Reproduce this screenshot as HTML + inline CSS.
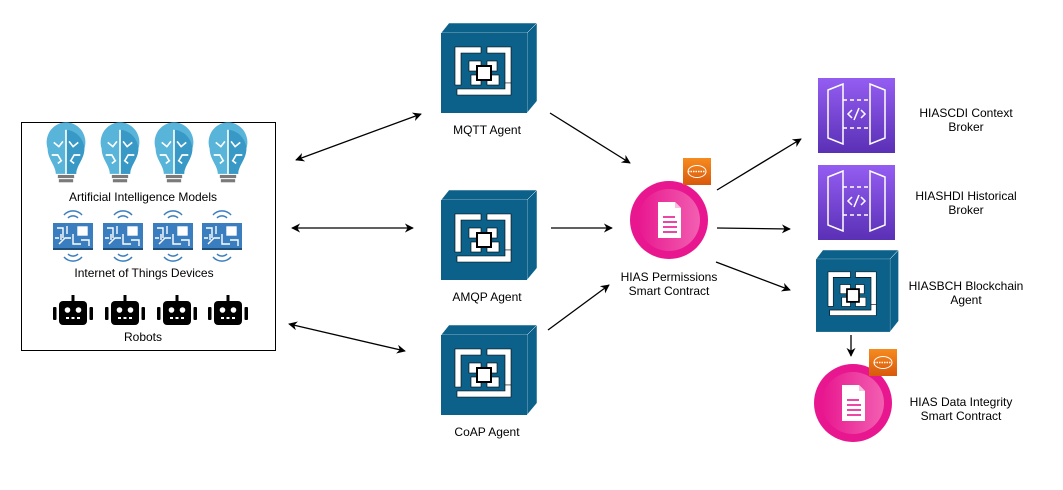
<!DOCTYPE html>
<html><head><meta charset="utf-8"><style>
html,body{margin:0;padding:0;background:#fff}
svg text{font-family:"Liberation Sans",sans-serif;font-size:12px;fill:#000}
</style></head><body>
<svg width="1063" height="485" viewBox="0 0 1063 485" xmlns="http://www.w3.org/2000/svg">
<defs>
<marker id="ah" viewBox="0 0 10 10" refX="9" refY="5" markerWidth="9" markerHeight="9" orient="auto-start-reverse" markerUnits="userSpaceOnUse">
<path d="M0,0 L10,5 L0,10 L3,5 Z" fill="#000"/></marker>
<g id="cube">
<polygon points="0,10 8,0 96,0 86,10" fill="#0b6189" stroke="#fff" stroke-width="0.5"/>
<polygon points="86,10 96,0 96,78 86,90" fill="#0b6189" stroke="#fff" stroke-width="0.5"/>
<rect x="0" y="10" width="86" height="80" fill="#0b6189"/>
<g fill="#fff" stroke="#000" stroke-width="0.6">
<path d="M14,24 H40 V30 H20 V62 H14 Z"/>
<path d="M46,24 H70 V60 H64 V30 H46 Z"/>
<path d="M16,66 H64 V60 H70 V72 H16 Z"/>
<rect x="28" y="38" width="12" height="10"/>
<rect x="46" y="38" width="10" height="10"/>
<rect x="30" y="52" width="10" height="10"/>
<rect x="46" y="52" width="12" height="10"/>
<rect x="36" y="43" width="14" height="14" stroke="#000" stroke-width="2"/>
</g>
</g>
<linearGradient id="pg" x1="0" x2="1"><stop offset="0" stop-color="#e8178f"/><stop offset="1" stop-color="#f25fb1"/></linearGradient>
<g id="sc">
<circle r="39" fill="#e8178f"/>
<circle r="31" fill="url(#pg)"/>
<path d="M-11,-18 H6 L12,-12 V18 H-11 Z" fill="#fff"/>
<path d="M6,-18 V-12 H12" fill="#f7c2df"/>
<g stroke="#e8178f" stroke-width="1.6"><line x1="-6" y1="-3" x2="6" y2="-3"/><line x1="-6" y1="2" x2="8" y2="2"/><line x1="-6" y1="7" x2="8" y2="7"/><line x1="-6" y1="12" x2="8" y2="12"/></g>
</g>
<linearGradient id="og" x1="0" y1="0" x2="0" y2="1"><stop offset="0" stop-color="#f68b1f"/><stop offset="1" stop-color="#d8590c"/></linearGradient>
<g id="badge">
<rect width="28" height="27" fill="url(#og)"/>
<ellipse cx="14" cy="13.5" rx="9" ry="6" fill="none" stroke="#fff" stroke-width="1"/>
<line x1="5" y1="13.5" x2="23" y2="13.5" stroke="#fff" stroke-width="1.5" stroke-dasharray="1.5 1"/>
</g>
<linearGradient id="vg" x1="0" y1="0" x2="0" y2="1"><stop offset="0" stop-color="#945df2"/><stop offset="1" stop-color="#5a30b5"/></linearGradient>
<g id="api">
<rect width="77" height="75" fill="url(#vg)"/>
<g fill="none" stroke="#fff" stroke-width="1.5">
<path d="M10,12 L25,6 V66 L10,60 Z"/><path d="M67,12 L52,6 V66 L67,60 Z"/>
<line x1="25" y1="22" x2="52" y2="22" stroke-dasharray="4 3"/><line x1="25" y1="50" x2="52" y2="50" stroke-dasharray="4 3"/>
<path d="M34,32 L30,36 L34,40 M43,32 L47,36 L43,40 M41,30 L36,42"/>
</g></g>
<g id="brain">
<path d="M-18,-6 A19,19 0 1 1 18,-6 C18,4 10,10 10,18 H-10 C-10,10 -18,4 -18,-6 Z" fill="#59b4d9"/>
<path d="M0,-24 A19,19 0 0 1 18,-6 C18,4 10,10 10,18 H0 Z" fill="#3999c6"/>
<g stroke="#fff" stroke-width="1.6" fill="none"><line x1="0" y1="-24" x2="0" y2="18"/><path d="M-12,-12 l5,4 l4,-5 M-14,0 l6,0 l3,5 M-8,8 l4,-3 M12,-12 l-5,4 l-4,-5 M14,0 l-6,0 l-3,5 M8,8 l-4,-3"/></g>
<rect x="-8" y="19" width="16" height="3" fill="#7a7a7a"/><rect x="-7" y="23" width="14" height="3" fill="#7a7a7a"/>
</g>
<g id="iot">
<g fill="none" stroke="#3a7ebf" stroke-width="1.5"><path d="M-5,-18 A7,7 0 0 1 5,-18 M-9,-21 A12,12 0 0 1 9,-21 M-5,18 A7,7 0 0 0 5,18 M-9,21 A12,12 0 0 0 9,21"/></g>
<rect x="-20" y="-13" width="40" height="26" fill="#3a7ebf"/>
<rect x="-20" y="12" width="40" height="2" fill="#1f4e79"/>
<g stroke="#fff" stroke-width="1.4" fill="none"><path d="M-16,-8 h6 v10 M-14,8 l6,-6 h6 M-6,-10 v8 M0,-2 v10 h8 M-18,2 h4 M-12,-2 v6"/><rect x="5" y="-9" width="9" height="8" fill="#fff"/><path d="M8,4 h8 v6"/></g>
</g>
<g id="robot">
<rect x="-14" y="-12" width="28" height="24" rx="4" fill="#000"/>
<rect x="-1.5" y="-18" width="3" height="7" fill="#000"/>
<rect x="-20" y="-6" width="3.5" height="13" rx="1" fill="#000"/><rect x="16.5" y="-6" width="3.5" height="13" rx="1" fill="#000"/>
<circle cx="-5.5" cy="-3" r="2.8" fill="#fff"/><circle cx="5.5" cy="-3" r="2.8" fill="#fff"/>
<g fill="#fff"><rect x="-7" y="4" width="3" height="2"/><rect x="-1.5" y="4" width="3" height="2"/><rect x="4" y="4" width="3" height="2"/></g>
</g>
</defs>

<rect x="21.5" y="122.5" width="254" height="228" fill="#fff" stroke="#000" stroke-width="1"/>
<g transform="translate(66,155) scale(1.02,1.05)"><use href="#brain"/></g>
<g transform="translate(120,155) scale(1.02,1.05)"><use href="#brain"/></g>
<g transform="translate(174,155) scale(1.02,1.05)"><use href="#brain"/></g>
<g transform="translate(228,155) scale(1.02,1.05)"><use href="#brain"/></g>
<text x="143" y="201" text-anchor="middle">Artificial Intelligence Models</text>
<use href="#iot" x="73" y="236"/><use href="#iot" x="123" y="236"/><use href="#iot" x="173" y="236"/><use href="#iot" x="222" y="236"/>
<text x="144" y="277" text-anchor="middle">Internet of Things Devices</text>
<use href="#robot" x="73" y="313"/><use href="#robot" x="125" y="313"/><use href="#robot" x="177" y="313"/><use href="#robot" x="228" y="313"/>
<text x="143" y="341" text-anchor="middle">Robots</text>

<g stroke="#000" stroke-width="1.3" marker-end="url(#ah)" marker-start="url(#ah)">
<line x1="296" y1="160" x2="421" y2="114"/>
<line x1="292" y1="228" x2="413" y2="228"/>
<line x1="289" y1="324" x2="405" y2="351"/>
</g>
<g stroke="#000" stroke-width="1.3" marker-end="url(#ah)">
<line x1="550" y1="113" x2="630" y2="163"/>
<line x1="551" y1="228" x2="612" y2="228"/>
<line x1="548" y1="330" x2="609" y2="285"/>
<line x1="717" y1="190" x2="801" y2="139"/>
<line x1="717" y1="228" x2="790" y2="229"/>
<line x1="716" y1="262" x2="790" y2="290"/>
<line x1="851" y1="335" x2="851" y2="356"/>
</g>

<use href="#cube" x="441" y="23"/>
<text x="487" y="134" text-anchor="middle">MQTT Agent</text>
<use href="#cube" x="441" y="190"/>
<text x="487" y="301" text-anchor="middle">AMQP Agent</text>
<use href="#cube" x="441" y="325"/>
<text x="487" y="436" text-anchor="middle">CoAP Agent</text>

<use href="#sc" x="669" y="220"/>
<use href="#badge" x="683" y="158"/>
<text x="669" y="281" text-anchor="middle">HIAS Permissions</text>
<text x="669" y="295" text-anchor="middle">Smart Contract</text>

<use href="#api" x="818" y="78"/>
<use href="#api" x="818" y="165"/>
<g transform="translate(816,250) scale(0.86,0.91)"><use href="#cube"/></g>
<use href="#sc" x="853" y="403"/>
<use href="#badge" x="869" y="349"/>

<text x="966" y="117" text-anchor="middle">HIASCDI Context</text>
<text x="966" y="131" text-anchor="middle">Broker</text>
<text x="966" y="200" text-anchor="middle">HIASHDI Historical</text>
<text x="966" y="214" text-anchor="middle">Broker</text>
<text x="966" y="290" text-anchor="middle">HIASBCH Blockchain</text>
<text x="966" y="304" text-anchor="middle">Agent</text>
<text x="961" y="406" text-anchor="middle">HIAS Data Integrity</text>
<text x="961" y="420" text-anchor="middle">Smart Contract</text>
</svg>
</body></html>
